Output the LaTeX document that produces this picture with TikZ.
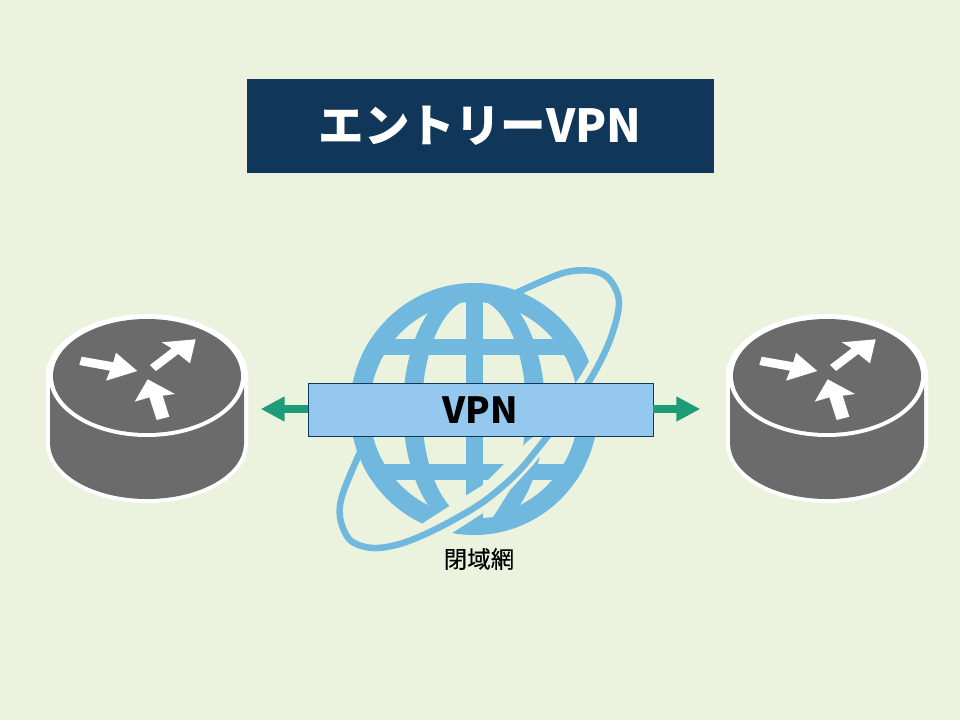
\documentclass[tikz,border=0pt]{standalone}
\usepackage{fontspec}
\usepackage{tikz}
\usetikzlibrary{arrows.meta}
\newfontfamily\jpfont{Noto Sans CJK JP}
\newfontfamily\jpmedium{Noto Sans CJK JP}[FakeBold=0.25]
\definecolor{bgc}{HTML}{EBF3DF}
\definecolor{navy}{HTML}{10375A}
\definecolor{boxblue}{HTML}{95C8EE}
\definecolor{globec}{HTML}{70B8DE}
\definecolor{routerc}{HTML}{6B6B6B}
\definecolor{greenc}{HTML}{1E9C78}
\tikzset{
  titlebox/.style={fill=navy,draw=navy,line width=0.6pt,minimum width=466pt,minimum height=93pt,inner sep=0pt,text=white,font=\jpfont\bfseries\fontsize{45.5}{50}\selectfont},
  vpnbox/.style={draw=navy,line width=0.8pt,minimum width=345pt,minimum height=53.5pt,inner sep=0pt,text=black,font=\jpfont\bfseries\fontsize{36}{40}\selectfont},
  caption/.style={inner sep=0pt,text=black,font=\jpmedium\fontsize{23.5}{26}\selectfont},
  linkarrow/.style={draw=greenc,line width=7.7pt,-{Triangle[length=24pt,width=23.5pt]}},
  whitearrow/.style={fill=white,draw=none},
}
\newcommand{\RouterIcon}{%
  \fill[white] (46,376) arc[start angle=180,end angle=360,x radius=101,y radius=62] -- (248,443)
     arc[start angle=0,end angle=180,x radius=101,y radius=60] -- cycle;
  \fill[routerc] (50,385) -- (50,443) arc[start angle=180,end angle=0,x radius=97,y radius=56] -- (244,385) -- cycle;
  \fill[white] (147,376) ellipse[x radius=98.5,y radius=61];
  \fill[routerc] (147,376) ellipse[x radius=94,y radius=57];
  \fill[whitearrow] (81.7,356.7) -- (79.3,365) -- (110,370.7) -- (106,380.7) -- (137.3,371) -- (116,352.7) -- (113.3,362.3) -- cycle;
  \fill[whitearrow] (150,365) -- (156,371) -- (178.3,354) -- (190,363.3) -- (195.7,339.3) -- (161.7,342.3) -- (171.7,348.3) -- cycle;
  \fill[whitearrow] (147.7,379.3) -- (134.7,401.7) -- (149.3,397.3) -- (156.7,420) -- (169.3,416.7) -- (162.7,395.7) -- (175,394) -- cycle;
}
\begin{document}
\begin{tikzpicture}[x=1pt,y=-1pt]
\useasboundingbox (0,0) rectangle (960,720);
\fill[bgc] (0,0) rectangle (960,720);

% title
\node[titlebox] (title) at (480.3,126) {エントリーVPN};

% routers
\RouterIcon
\begin{scope}[xshift=680pt]\RouterIcon\end{scope}

% globe
\fill[globec,even odd rule] (474,409) ellipse[x radius=124,y radius=126] (474,409) ellipse[x radius=104.5,y radius=107];
\begin{scope}
  \clip (474,409) ellipse[x radius=124,y radius=126];
  \fill[globec,even odd rule] (474,409) ellipse[x radius=71,y radius=126] (474,409) ellipse[x radius=52,y radius=110];
  \fill[globec] (466,283) rectangle (483,535);
  \fill[globec] (350,339) rectangle (598,355);
  \fill[globec] (350,464) rectangle (598,480);
\end{scope}
% gap cut through the globe
\fill[bgc] (416,530) -- (423,523) -- (448,507) -- (467,495) -- (483,485) -- (505,463) -- (526,443) -- (540,431) -- (580,377) -- (590,360) -- (625,325)
   -- (625,400) -- (590,400) -- (545,450) -- (533,465) -- (510,490) -- (493,517) -- (483,518) -- (483,513) -- (452,533) -- (445,548) -- cycle;
% orbit
\draw[globec,line width=6.5pt,line join=round] plot[smooth,tension=0.55] coordinates {(361,450) (343,493) (340,517) (350,540) (373,548) (403,543) (440,527) (483,502) (517,473) (543,442) (563,417) (590,380) (610,340) (619,303) (610,280) (593,271) (563,273) (516,293)};

% VPN bar
\node[vpnbox,fill=boxblue] (vpn) at (480.5,410) {VPN};
\coordinate (tipL) at (260.7,409);
\coordinate (tipR) at (700.3,409);
\draw[linkarrow] (tipL -| vpn.west) -- (tipL);
\draw[linkarrow] (tipR -| vpn.east) -- (tipR);

\node[caption] (net) at (479,559) {閉域網};
\end{tikzpicture}
\end{document}
